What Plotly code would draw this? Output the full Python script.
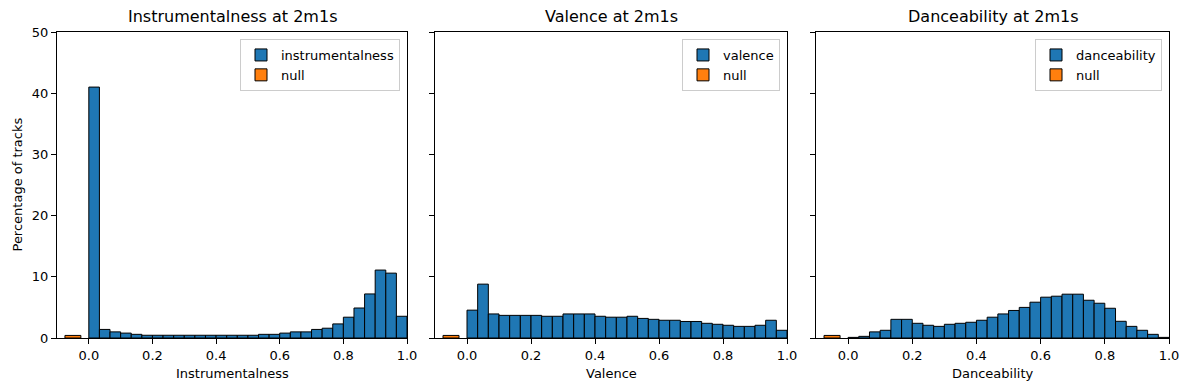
import numpy as np
import plotly.graph_objects as go

# ---- data (percentage of tracks per bin, 30 bins on [0, 1]) ----
n_bins = 30
features = ["instrumentalness", "valence", "danceability"]
titles = ["Instrumentalness at 2m1s", "Valence at 2m1s", "Danceability at 2m1s"]
xlabels = ["Instrumentalness", "Valence", "Danceability"]

instrumentalness = [41.0, 1.4, 1.0, 0.8, 0.6, 0.45, 0.45, 0.45, 0.45, 0.45,
                    0.45, 0.45, 0.45, 0.45, 0.45, 0.45, 0.6, 0.6, 0.8, 1.0,
                    1.0, 1.4, 1.6, 2.3, 3.4, 4.9, 7.2, 11.1, 10.6, 3.55]
valence = [4.55, 8.8, 3.93, 3.7, 3.7, 3.7, 3.7, 3.55, 3.55, 3.93,
           3.93, 3.93, 3.55, 3.4, 3.4, 3.55, 3.2, 3.05, 2.9, 2.9,
           2.7, 2.7, 2.4, 2.24, 2.08, 1.9, 1.9, 2.08, 2.9, 1.26]
danceability = [0.1, 0.27, 1.0, 1.26, 3.05, 3.05, 2.4, 2.08, 1.9, 2.24,
                2.4, 2.57, 2.9, 3.4, 3.93, 4.5, 5.0, 5.85, 6.67, 6.83,
                7.16, 7.16, 6.17, 5.68, 4.86, 2.73, 1.9, 1.26, 0.6, 0.1]
null_pct = [0.42, 0.42, 0.42]
null_x = -0.05
null_width = 0.05

series = [instrumentalness, valence, danceability]

edges = np.linspace(0, 1, n_bins + 1)
centers = (edges[:-1] + edges[1:]) / 2
bw = edges[1] - edges[0]

BLUE = "#1f77b4"
ORANGE = "#ff7f0e"
FONT = "DejaVu Sans"

# page body has an 8px margin; work in figure coordinates shifted by it
OFF = 8
W, H = 1189, 390
left, right, top, bottom = 57 - OFF, 1169 - OFF, 32 - OFF, 338 - OFF
ml, mr, mt, mb = left, W - right, top, H - bottom
pw = W - ml - mr
ph = H - mt - mb

# panel pixel extents (page coordinates)
panels_px = [(57, 407), (435, 787), (816, 1169)]
domains = [((a - OFF - ml) / pw, (b - OFF - ml) / pw) for a, b in panels_px]

fig = go.Figure()
legend_names = ["legend", "legend2", "legend3"]

for i, (feat, vals) in enumerate(zip(features, series)):
    xa = "x" if i == 0 else f"x{i+1}"
    ya = "y" if i == 0 else f"y{i+1}"
    fig.add_trace(go.Bar(
        x=centers, y=vals, width=bw, name=feat,
        marker=dict(color=BLUE, line=dict(color="black", width=1)),
        xaxis=xa, yaxis=ya, legend=legend_names[i], showlegend=True,
    ))
    fig.add_trace(go.Bar(
        x=[null_x], y=[null_pct[i]], width=null_width, name="null",
        marker=dict(color=ORANGE, line=dict(color="black", width=1)),
        xaxis=xa, yaxis=ya, legend=legend_names[i], showlegend=True,
    ))

layout = dict(
    width=W, height=H,
    margin=dict(l=ml, r=mr, t=mt, b=mb, autoexpand=False),
    paper_bgcolor="white", plot_bgcolor="white",
    font=dict(family=FONT, size=13, color="black"),
    barmode="overlay", showlegend=True,
)

annotations = []
for i in range(3):
    sfx = "" if i == 0 else str(i + 1)
    d0, d1 = domains[i]
    layout[f"xaxis{sfx}"] = dict(
        domain=[d0, d1], range=[-0.1, 1.0],
        tickvals=[0.0, 0.2, 0.4, 0.6, 0.8, 1.0],
        ticktext=["0.0", "0.2", "0.4", "0.6", "0.8", "1.0"],
        ticks="outside", ticklen=5, tickwidth=1, tickcolor="black",
        showline=True, linecolor="black", linewidth=1, mirror=True,
        showgrid=False, zeroline=False, automargin=False,
        tickfont=dict(family=FONT, size=13, color="black"),
        anchor="y" if i == 0 else f"y{i+1}",
    )
    layout[f"yaxis{sfx}"] = dict(
        range=[0, 50], tickvals=[0, 10, 20, 30, 40, 50],
        showticklabels=(i == 0),
        ticks="outside", ticklen=5, tickwidth=1, tickcolor="black",
        showline=True, linecolor="black", linewidth=1, mirror=True,
        showgrid=False, zeroline=False, automargin=False,
        tickfont=dict(family=FONT, size=13, color="black"),
        anchor="x" if i == 0 else f"x{i+1}",
    )
    lx = (panels_px[i][1] - 7 - OFF - ml) / pw
    layout[legend_names[i]] = dict(
        x=lx, xanchor="right", y=1 - 7 / ph, yanchor="top",
        bgcolor="rgba(255,255,255,0.8)", bordercolor="#cccccc", borderwidth=1,
        font=dict(family=FONT, size=13, color="black"),
        tracegroupgap=2, itemwidth=30,
    )
    # subplot title
    annotations.append(dict(
        text=titles[i], x=(d0 + d1) / 2, xref="paper", y=1, yref="paper",
        xanchor="center", yanchor="bottom", yshift=4, showarrow=False,
        font=dict(family=FONT, size=16, color="black"),
    ))
    # x-axis label
    annotations.append(dict(
        text=xlabels[i], x=(d0 + d1) / 2, xref="paper", y=0, yref="paper",
        xanchor="center", yanchor="top", yshift=-26, showarrow=False,
        font=dict(family=FONT, size=13, color="black"),
    ))

# y-axis label
annotations.append(dict(
    text="Percentage of tracks", x=0, xref="paper", y=0.5, yref="paper",
    xanchor="right", yanchor="middle", xshift=-31, textangle=-90,
    showarrow=False, font=dict(family=FONT, size=13, color="black"),
))

layout["annotations"] = annotations
fig.update_layout(**layout)
fig.write_html("out.html")
